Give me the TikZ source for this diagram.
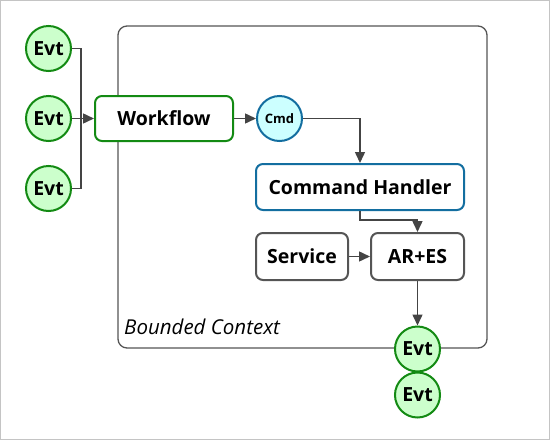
\documentclass[tikz,border=0pt]{standalone}
\usepackage{fontspec}
\setmainfont{Open Sans}
\usetikzlibrary{arrows.meta}
\definecolor{evtfill}{HTML}{CCFFCC}
\definecolor{evtdraw}{HTML}{138A13}
\definecolor{cmdfill}{HTML}{CCFFFF}
\definecolor{cmddraw}{HTML}{136EA0}
\definecolor{boxdraw}{HTML}{555555}
\definecolor{linecol}{HTML}{444444}
\definecolor{framecol}{HTML}{C4C4C4}
\tikzset{
  evt/.style={circle, draw=evtdraw, fill=evtfill, line width=2pt, minimum size=45pt, inner sep=0pt, font=\fontsize{19.5}{22}\selectfont\bfseries},
  cmdc/.style={circle, draw=cmddraw, fill=cmdfill, line width=2pt, minimum size=45pt, inner sep=0pt, font=\fontsize{13}{15}\selectfont\bfseries},
  wfbox/.style={rectangle, rounded corners=7pt, draw=evtdraw, fill=white, line width=2pt, inner sep=0pt, font=\fontsize{19.5}{22}\selectfont\bfseries},
  chbox/.style={rectangle, rounded corners=7pt, draw=cmddraw, fill=white, line width=2pt, inner sep=0pt, font=\fontsize{19.5}{22}\selectfont\bfseries},
  gbox/.style={rectangle, rounded corners=7pt, draw=boxdraw, fill=white, line width=2pt, inner sep=0pt, font=\fontsize{19.5}{22}\selectfont\bfseries},
  bcbox/.style={rectangle, rounded corners=9pt, draw=boxdraw, line width=1.3pt, inner sep=0pt},
  conn/.style={draw=linecol, line width=1.5pt},
  arr/.style={conn, -{Triangle[length=11pt,width=10pt]}},
}
\begin{document}
\begin{tikzpicture}[x=1pt,y=-1pt]
\useasboundingbox (0,0) rectangle (550,440);
\draw[framecol, line width=1pt] (0.5,0.5) rectangle (549.5,439.5);
% bounded context
\node[bcbox, minimum width=369pt, minimum height=322pt] (bc) at (302.5,187) {};
\node[anchor=west, inner sep=0pt, font=\fontsize{20.5}{24}\selectfont\itshape] (bcl) at (124,327) {Bounded Context};
% left events
\node[evt] (e1) at (48.5,48.5) {Evt};
\node[evt] (e2) at (48.5,118.5) {Evt};
\node[evt] (e3) at (48.5,188.5) {Evt};
\coordinate (j) at (81,118.5);
\draw[conn] (e1.east) -| (j);
\draw[conn] (e3.east) -| (j);
% workflow
\node[wfbox, minimum width=138pt, minimum height=45pt] (wf) at (164,118.5) {Workflow};
\draw[arr] (e2.east) -- (wf.west);
% cmd
\node[cmdc] (cmd) at (279.5,118.5) {Cmd};
\draw[arr] (wf.east) -- (cmd.west);
% command handler
\node[chbox, minimum width=208pt, minimum height=46pt] (ch) at (360,187) {Command Handler};
\draw[arr] (cmd.east) -| (ch.north);
% service, AR+ES
\node[gbox, minimum width=92pt, minimum height=47pt] (sv) at (302,256.5) {Service};
\node[gbox, minimum width=93pt, minimum height=47pt] (ar) at (417.5,256.5) {AR+ES};
\draw[arr] (ch.south) -- ++(0,9) -| (ar.north);
\draw[arr] (sv.east) -- (ar.west);
% bottom events
\node[evt] (e4) at (417.5,349) {Evt};
\node[evt] (e5) at (417.5,395) {Evt};
\draw[arr] (ar.south) -- (e4.north);
\end{tikzpicture}
\end{document}
